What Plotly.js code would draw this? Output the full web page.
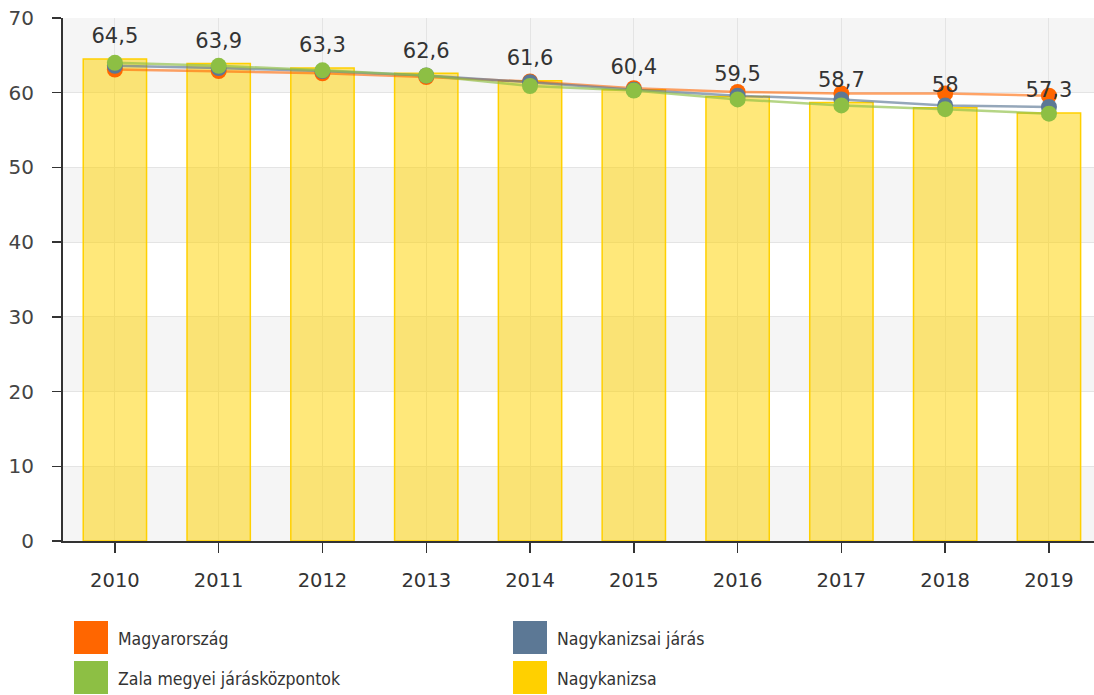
<!DOCTYPE html>
<html>
<head>
<meta charset="utf-8">
<script src="https://cdn.plot.ly/plotly-3.0.1.min.js"></script>
<style>html,body{margin:0;padding:0;background:#fff;}#chart{width:1094px;height:695px;}</style>
</head>
<body>
<div id="chart"></div>
<script>
const years = ['2010','2011','2012','2013','2014','2015','2016','2017','2018','2019'];
const nagykanizsa = [64.5, 63.9, 63.3, 62.6, 61.6, 60.4, 59.5, 58.7, 58.0, 57.3];
const magyarorszag = [63.1, 62.9, 62.6, 62.1, 61.5, 60.6, 60.1, 59.9, 59.9, 59.6];
const nagykanizsaiJaras = [63.6, 63.3, 62.9, 62.3, 61.4, 60.4, 59.6, 59.1, 58.3, 58.1];
const zalaJaraskozpontok = [64.0, 63.6, 63.0, 62.3, 60.9, 60.3, 59.1, 58.3, 57.8, 57.2];
const barLabels = ['64,5','63,9','63,3','62,6','61,6','60,4','59,5','58,7','58','57,3'];
const seriesNames = ['Magyarország','Nagykanizsai járás','Zala megyei járásközpontok','Nagykanizsa'];
const seriesColors = ['#FF6600','#5C7895','#8DBF44','#FFD000'];
const yTicks = [0,10,20,30,40,50,60,70];

const fontFam = '"DejaVu Sans", Verdana, sans-serif';

function lineTrace(name, vals, color, lineColor){
  return {
    type:'scatter', mode:'lines+markers', x:years, y:vals, name:name,
    line:{color:lineColor, width:2.5},
    marker:{color:color, size:16, line:{width:0}},
    hoverinfo:'skip', showlegend:false, cliponaxis:false
  };
}

const traces = [
  {type:'bar', x:years, y:nagykanizsa, name:seriesNames[3], width:0.61,
   marker:{color:'rgba(255,210,0,0.52)', line:{color:'#FFD000', width:1.5}},
   hoverinfo:'skip', showlegend:false},
  lineTrace(seriesNames[0], magyarorszag, seriesColors[0], 'rgba(255,102,0,0.6)'),
  lineTrace(seriesNames[1], nagykanizsaiJaras, seriesColors[1], 'rgba(92,120,149,0.65)'),
  lineTrace(seriesNames[2], zalaJaraskozpontok, seriesColors[2], 'rgba(141,191,68,0.65)'),
  {type:'scatter', mode:'markers+text', x:years, y:nagykanizsa, text:barLabels,
   textposition:'top center', textfont:{family:fontFam, size:21, color:'#333'},
   marker:{size:15, opacity:0}, hoverinfo:'skip', showlegend:false, cliponaxis:false}
];

const shapes = [];
for (let i = 0; i < yTicks.length - 1; i += 2) {
  shapes.push({type:'rect', layer:'below', xref:'paper', yref:'y', x0:0, x1:1,
    y0:yTicks[i], y1:yTicks[i+1], fillcolor:'#F5F5F5', line:{width:0}});
}
// legend swatches + labels (positions in pixels converted to paper)
const plotL = 63, plotW = 1094 - 63, plotT = 18, plotH = 541 - 18;
const px = x => (x - plotL) / plotW;
const py = y => (plotT + plotH - y) / plotH;
const legendPos = [[74, 621],[513, 621],[74, 661],[513, 661]];
const legendOrder = [0,1,2,3];
const annotations = [];
legendOrder.forEach((s, k) => {
  const [lx, ly] = legendPos[k];
  shapes.push({type:'rect', xref:'paper', yref:'paper', x0:px(lx), x1:px(lx+34),
    y0:py(ly+33), y1:py(ly), fillcolor:seriesColors[s], line:{width:0}});
  annotations.push({xref:'paper', yref:'paper', x:px(lx+42), y:py(ly+18),
    xanchor:'left', yanchor:'middle', showarrow:false, text:seriesNames[s],
    font:{family:'"DejaVu Sans Condensed", "DejaVu Sans", sans-serif', size:17.5, color:'#333'}});
});

const layout = {
  width:1094, height:695,
  margin:{l:63, r:0, t:18, b:154},
  paper_bgcolor:'#fff', plot_bgcolor:'#fff',
  showlegend:false,
  font:{family:fontFam, color:'#444'},
  xaxis:{type:'category', range:[-0.5, 9.434], showgrid:true, gridcolor:'#E4E4E4', gridwidth:1,
    ticks:'outside', ticklen:10, tickcolor:'#333', tickwidth:1.5,
    showline:true, linecolor:'#333', linewidth:2,
    tickfont:{family:fontFam, size:19.5, color:'#333'}, ticklabelstandoff:11, zeroline:false, fixedrange:true},
  yaxis:{range:[0,70], tickvals:yTicks, showgrid:true, gridcolor:'#E4E4E4', gridwidth:1,
    ticks:'outside', ticklen:9, tickcolor:'#333', tickwidth:1.5,
    showline:true, linecolor:'#333', linewidth:2, zeroline:false,
    tickfont:{family:fontFam, size:20, color:'#444'}, ticklabelstandoff:14, fixedrange:true},
  bargap:0.39,
  shapes:shapes, annotations:annotations
};

Plotly.newPlot('chart', traces, layout, {displayModeBar:false, staticPlot:true});
</script>
</body>
</html>
